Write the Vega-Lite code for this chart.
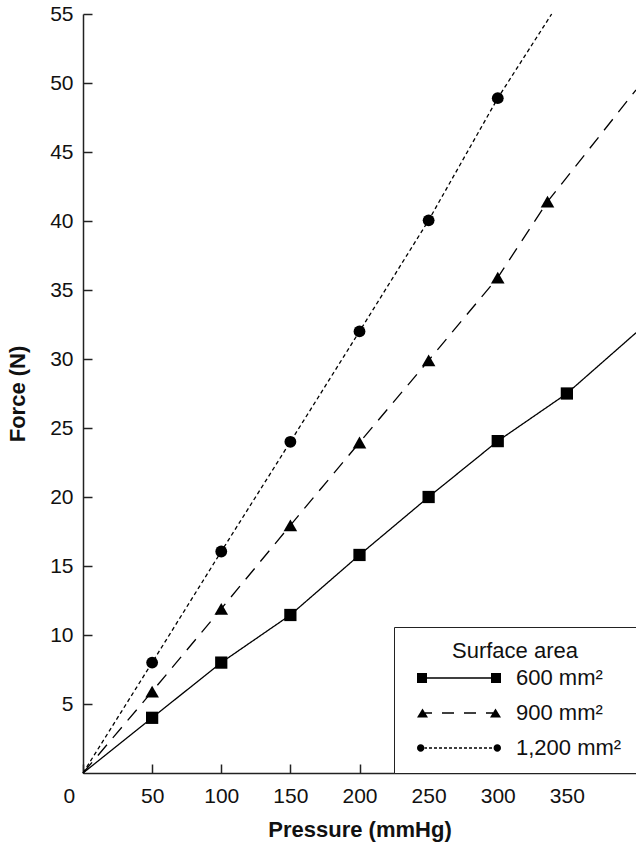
{
  "$schema": "https://vega.github.io/schema/vega-lite/v6.json",
  "autosize": {"type": "none"},
  "width": 553,
  "height": 759,
  "padding": {"left": 83, "top": 14, "right": 0, "bottom": 73},
  "background": "white",
  "config": {
    "font": "Liberation Sans",
    "view": {"stroke": null},
    "axis": {"grid": false, "domainColor": "#222", "domainWidth": 1.5, "tickColor": "#222", "tickWidth": 1.5, "labelColor": "#111", "titleColor": "#111", "labelFontSize": 21, "titleFontSize": 22, "titleFontWeight": "bold", "labelFont": "Liberation Sans", "titleFont": "Liberation Sans"}
  },
  "data": {
    "values": [
      {"series": "600 mm²", "pressure": 0, "force": 0, "marker": false},
      {"series": "600 mm²", "pressure": 50, "force": 4.0, "marker": true},
      {"series": "600 mm²", "pressure": 100, "force": 8.0, "marker": true},
      {"series": "600 mm²", "pressure": 150, "force": 11.45, "marker": true},
      {"series": "600 mm²", "pressure": 200, "force": 15.8, "marker": true},
      {"series": "600 mm²", "pressure": 250, "force": 20.0, "marker": true},
      {"series": "600 mm²", "pressure": 300, "force": 24.05, "marker": true},
      {"series": "600 mm²", "pressure": 350, "force": 27.5, "marker": true},
      {"series": "600 mm²", "pressure": 400, "force": 31.9, "marker": false},
      {"series": "900 mm²", "pressure": 0, "force": 0, "marker": false},
      {"series": "900 mm²", "pressure": 50, "force": 5.9, "marker": true},
      {"series": "900 mm²", "pressure": 100, "force": 11.9, "marker": true},
      {"series": "900 mm²", "pressure": 150, "force": 17.95, "marker": true},
      {"series": "900 mm²", "pressure": 200, "force": 23.95, "marker": true},
      {"series": "900 mm²", "pressure": 250, "force": 29.9, "marker": true},
      {"series": "900 mm²", "pressure": 300, "force": 35.9, "marker": true},
      {"series": "900 mm²", "pressure": 336, "force": 41.4, "marker": true},
      {"series": "900 mm²", "pressure": 400, "force": 49.5, "marker": false},
      {"series": "1,200 mm²", "pressure": 0, "force": 0, "marker": false},
      {"series": "1,200 mm²", "pressure": 50, "force": 8.0, "marker": true},
      {"series": "1,200 mm²", "pressure": 100, "force": 16.05, "marker": true},
      {"series": "1,200 mm²", "pressure": 150, "force": 24.0, "marker": true},
      {"series": "1,200 mm²", "pressure": 200, "force": 32.0, "marker": true},
      {"series": "1,200 mm²", "pressure": 250, "force": 40.05, "marker": true},
      {"series": "1,200 mm²", "pressure": 300, "force": 48.9, "marker": true},
      {"series": "1,200 mm²", "pressure": 339, "force": 55, "marker": false}
    ]
  },
  "encoding": {
    "x": {
      "field": "pressure", "type": "quantitative",
      "scale": {"domain": [0, 400], "nice": false},
      "axis": {"title": "Pressure (mmHg)", "values": [0, 50, 100, 150, 200, 250, 300, 350], "tickSize": -9, "labelPadding": 21, "titlePadding": 13,
        "labelOffset": {"condition": {"test": "datum.value == 0", "value": -20}, "value": 0}}
    },
    "y": {
      "field": "force", "type": "quantitative",
      "scale": {"domain": [0, 55], "nice": false},
      "axis": {"title": "Force (N)", "values": [5, 10, 15, 20, 25, 30, 35, 40, 45, 50, 55], "tickSize": -9, "labelPadding": 19, "titlePadding": 20}
    }
  },
  "resolve": {"scale": {"shape": "independent"}, "legend": {"strokeDash": "independent", "shape": "independent"}},
  "layer": [
    {
      "mark": {"type": "line", "color": "black", "strokeWidth": 1.3},
      "encoding": {
        "detail": {"field": "series"},
        "strokeDash": {"field": "series", "type": "nominal",
          "scale": {"domain": ["600 mm²", "900 mm²", "1,200 mm²"], "range": [[1, 0], [14, 9], [4, 3]]},
          "legend": null}
      }
    },
    {
      "transform": [{"filter": "datum.marker"}],
      "mark": {"type": "point", "filled": true, "color": "black", "opacity": 1},
      "encoding": {
        "shape": {"field": "series", "type": "nominal",
          "scale": {"domain": ["600 mm²", "900 mm²", "1,200 mm²"], "range": ["square", "triangle-up", "circle"]},
          "legend": null},
        "size": {"condition": [{"test": "datum.series == '900 mm²'", "value": 185}, {"test": "datum.series == '1,200 mm²'", "value": 140}], "value": 150}
      }
    },
    {
      "transform": [{"filter": "datum.marker"}],
      "mark": {"type": "point", "filled": true, "fill": "black", "opacity": 0, "size": 400},
      "encoding": {
        "shape": {"field": "series", "type": "nominal",
          "scale": {"domain": ["600 mm²", "900 mm²", "1,200 mm²"],
            "range": [
              "M-4.2,-0.5 L-3.2,-0.5 L-3.2,0.5 L-4.2,0.5 Z M-3.3,-0.065 L3.3,-0.065 L3.3,0.065 L-3.3,0.065 Z M3.2,-0.5 L4.2,-0.5 L4.2,0.5 L3.2,0.5 Z",
              "M-4.2,0.45 L-3.65,-0.45 L-3.1,0.45 Z M-3.4,-0.065 L-2.7,-0.065 L-2.7,0.065 L-3.4,0.065 Z M-1.7,-0.065 L-0.5,-0.065 L-0.5,0.065 L-1.7,0.065 Z M0.5,-0.065 L1.7,-0.065 L1.7,0.065 L0.5,0.065 Z M2.7,-0.065 L3.4,-0.065 L3.4,0.065 L2.7,0.065 Z M3.1,0.45 L3.65,-0.45 L4.2,0.45 Z",
              "M-4.2,0 A0.37,0.37 0 1,0 -3.46,0 A0.37,0.37 0 1,0 -4.2,0 Z M-3.5,-0.065 L-3.2,-0.065 L-3.2,0.065 L-3.5,0.065 Z M-3,-0.065 L-2.7,-0.065 L-2.7,0.065 L-3,0.065 Z M-2.5,-0.065 L-2.2,-0.065 L-2.2,0.065 L-2.5,0.065 Z M-2,-0.065 L-1.7,-0.065 L-1.7,0.065 L-2,0.065 Z M-1.5,-0.065 L-1.2,-0.065 L-1.2,0.065 L-1.5,0.065 Z M-1,-0.065 L-0.7,-0.065 L-0.7,0.065 L-1,0.065 Z M-0.5,-0.065 L-0.2,-0.065 L-0.2,0.065 L-0.5,0.065 Z M0,-0.065 L0.3,-0.065 L0.3,0.065 L0,0.065 Z M0.5,-0.065 L0.8,-0.065 L0.8,0.065 L0.5,0.065 Z M1,-0.065 L1.3,-0.065 L1.3,0.065 L1,0.065 Z M1.5,-0.065 L1.8,-0.065 L1.8,0.065 L1.5,0.065 Z M2,-0.065 L2.3,-0.065 L2.3,0.065 L2,0.065 Z M2.5,-0.065 L2.8,-0.065 L2.8,0.065 L2.5,0.065 Z M3,-0.065 L3.3,-0.065 L3.3,0.065 L3,0.065 Z M3.46,0 A0.37,0.37 0 1,0 4.2,0 A0.37,0.37 0 1,0 3.46,0 Z"
            ]},
          "legend": {
            "title": "Surface area",
            "orient": "bottom-right",
            "offset": 0,
            "padding": 14,
            "strokeColor": "#222",
            "fillColor": "white",
            "titleFontSize": 22,
            "titleFontWeight": "normal",
            "titleColor": "#111",
            "labelColor": "#111",
            "titleAnchor": "middle",
            "titlePadding": 4,
            "labelFontSize": 22,
            "labelOffset": 46,
            "symbolOffset": 40,
            "rowPadding": 13,
            "symbolSize": 400,
            "symbolOpacity": 1,
            "symbolFillColor": "black"
          }
        }
      }
    }
  ]
}
